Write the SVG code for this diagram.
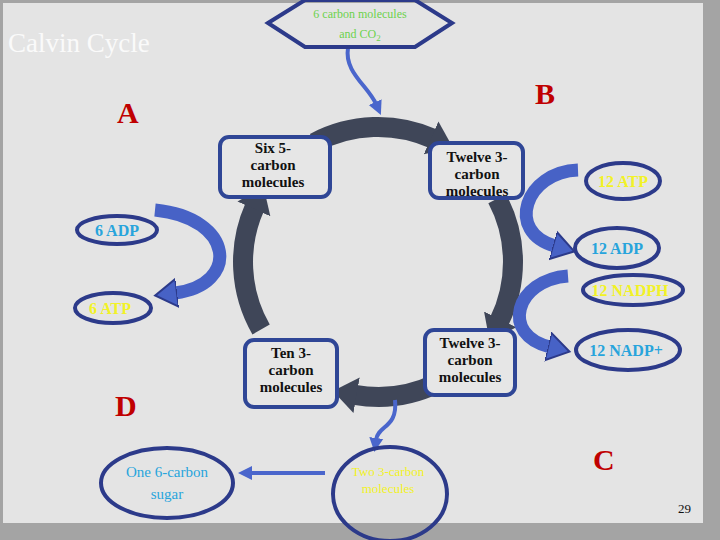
<svg xmlns="http://www.w3.org/2000/svg" width="720" height="540" viewBox="0 0 720 540">
<style>
.box{fill:#e6e6e6;stroke:#2f4696;stroke-width:4}
.ell{fill:none;stroke:#2c3a8a;stroke-width:4}
.bt{font-family:"Liberation Serif",serif;font-weight:bold;font-size:15px;fill:#111;text-anchor:middle}
.et{font-family:"Liberation Serif",serif;font-weight:bold;font-size:16px;text-anchor:middle}
.y{fill:#f2f226}.c{fill:#28a4dc}
.ring{fill:none;stroke:#3f4658;stroke-width:20}
.blue{fill:none;stroke:#4762c6;stroke-width:13}
.thin{fill:none;stroke:#4a66cc;stroke-width:4}
.lab{font-family:"Liberation Serif",serif;font-weight:bold;font-size:30px;fill:#c00000}
</style>
<defs>
<marker id="rh" markerUnits="userSpaceOnUse" markerWidth="40" markerHeight="50" refX="2" refY="20" orient="auto" viewBox="0 0 40 40"><path d="M0,2 L24,20 L0,38 z" fill="#3f4658"/></marker>
<marker id="bh" markerUnits="userSpaceOnUse" markerWidth="30" markerHeight="40" refX="2" refY="15" orient="auto" viewBox="0 0 30 30"><path d="M0,1 L22,15 L0,29 z" fill="#4762c6" stroke="#2c3a8a" stroke-width="2"/></marker>
<marker id="th" markerUnits="userSpaceOnUse" markerWidth="16" markerHeight="16" refX="2" refY="8" orient="auto" viewBox="0 0 16 16"><path d="M0,1 L14,8 L0,15 z" fill="#4a66cc"/></marker>
</defs>
<rect width="720" height="540" fill="#a4a4a4"/>
<rect x="3" y="3" width="700" height="520" fill="#e4e4e4"/>
<text x="8" y="52" font-family="Liberation Serif,serif" font-size="27" fill="#fafafa">Calvin Cycle</text>
<text class="lab" x="117" y="123">A</text>
<text class="lab" x="535" y="104">B</text>
<text class="lab" x="593" y="470">C</text>
<text class="lab" x="115" y="416">D</text>
<text x="678" y="513" font-family="Liberation Serif,serif" font-size="13" fill="#111">29</text>
<g id="connectors">
<path class="ring" d="M314.6,142.8 A135,135 0 0 1 432.9,138.7" marker-end="url(#rh)"/>
<path class="ring" d="M497.2,198.6 A135,135 0 0 1 499.3,321.2" marker-end="url(#rh)"/>
<path class="ring" d="M437.2,383.3 A135,135 0 0 1 354.6,394.9" marker-end="url(#rh)"/>
<path class="ring" d="M261.1,329.5 A135,135 0 0 1 254.7,207.1" marker-end="url(#rh)"/>
<path class="blue" d="M578,170 C525,172 505,232 555,246" marker-end="url(#bh)"/>
<path class="blue" d="M568,276 C515,280 500,335 550,347" marker-end="url(#bh)"/>
<path class="blue" d="M155,210 C235,218 240,285 175,293" marker-end="url(#bh)"/>
<path class="thin" d="M348,48 C344,72 368,86 376,104" marker-end="url(#th)"/>
<path class="thin" d="M395,400 C398,428 378,425 376,440" marker-end="url(#th)"/>
<path class="thin" d="M325,473 L250,473" marker-end="url(#th)"/>
</g>
<g id="input"><polygon points="268,23 305,0 415,0 452,23 415,47 305,47" fill="none" stroke="#2c3a8a" stroke-width="4"/>
<text x="360" y="18" font-family="Liberation Serif,serif" font-size="12" fill="#6cd24c" text-anchor="middle">6 carbon molecules</text>
<text x="360" y="38" font-family="Liberation Serif,serif" font-size="12" fill="#6cd24c" text-anchor="middle">and CO<tspan font-size="9" dy="3">2</tspan></text></g>
<g id="six5"><rect class="box" x="220" y="137" width="110" height="60" rx="9"/>
<text class="bt" x="273" y="153">Six 5-</text><text class="bt" x="273" y="170">carbon</text><text class="bt" x="273" y="187">molecules</text></g>
<g id="twelveTop"><rect class="box" x="430" y="143" width="93" height="55" rx="9"/>
<text class="bt" x="477" y="162">Twelve 3-</text><text class="bt" x="477" y="179">carbon</text><text class="bt" x="477" y="196">molecules</text></g>
<g id="twelveBot"><rect class="box" x="425" y="330" width="90" height="65" rx="9"/>
<text class="bt" x="470" y="348">Twelve 3-</text><text class="bt" x="470" y="365">carbon</text><text class="bt" x="470" y="382">molecules</text></g>
<g id="ten3"><rect class="box" x="245" y="340" width="92" height="67" rx="9"/>
<text class="bt" x="291" y="358">Ten 3-</text><text class="bt" x="291" y="375">carbon</text><text class="bt" x="291" y="392">molecules</text></g>
<g id="atp12"><ellipse class="ell" cx="623" cy="181" rx="37" ry="18"/><text class="et y" x="623" y="187">12 ATP</text></g>
<g id="adp12"><ellipse class="ell" cx="617" cy="248" rx="42" ry="20"/><text class="et c" x="617" y="254">12 ADP</text></g>
<g id="nadph12"><ellipse class="ell" cx="633" cy="290" rx="50" ry="15"/><text class="et y" x="630" y="296">12 NADPH</text></g>
<g id="nadp12"><ellipse class="ell" cx="628" cy="350" rx="52" ry="20"/><text class="et c" x="626" y="356">12 NADP+</text></g>
<g id="adp6"><ellipse class="ell" cx="117" cy="230" rx="40" ry="14"/><text class="et c" x="117" y="236">6 ADP</text></g>
<g id="atp6"><ellipse class="ell" cx="113" cy="308" rx="38" ry="15"/><text class="et y" x="110" y="314">6 ATP</text></g>
<g id="sugar"><ellipse class="ell" cx="167" cy="483" rx="66" ry="35"/>
<text x="167" y="477" font-family="Liberation Serif,serif" font-size="15" class="c" text-anchor="middle">One 6-carbon</text>
<text x="167" y="499" font-family="Liberation Serif,serif" font-size="15" class="c" text-anchor="middle">sugar</text></g>
<g id="two3"><ellipse class="ell" cx="390" cy="494" rx="57" ry="47"/>
<text x="388" y="476" font-family="Liberation Serif,serif" font-size="13" class="y" text-anchor="middle">Two 3-carbon</text>
<text x="388" y="493" font-family="Liberation Serif,serif" font-size="13" class="y" text-anchor="middle">molecules</text></g>
</svg>
